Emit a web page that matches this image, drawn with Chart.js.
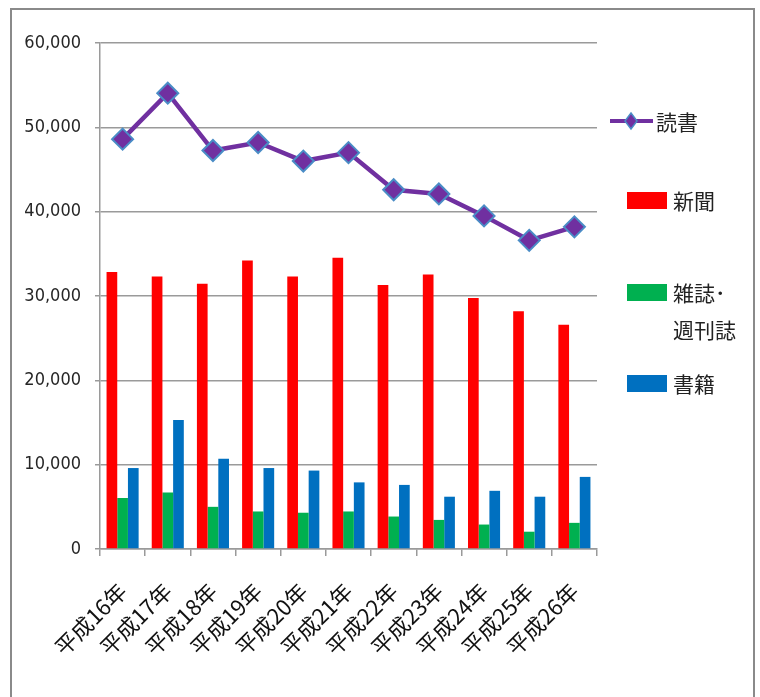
<!DOCTYPE html>
<html>
<head>
<meta charset="utf-8">
<script src="https://cdn.jsdelivr.net/npm/chart.js@4/dist/chart.umd.min.js"></script>
<style>
  body { margin: 0; background: #fff; }
  #wrap { position: relative; width: 760px; height: 697px; overflow: hidden; }
  #frame { position: absolute; left: 10px; top: 8px; width: 741px; height: 720px;
           border: 2px solid #8a8a8a; border-bottom: none; pointer-events: none; }
  canvas { position: absolute; left: 0; top: 0; }
</style>
</head>
<body>
<div id="wrap">
  <canvas id="chart" width="760" height="697"></canvas>
  <div id="frame"></div>
</div>
<script>
const years = ["平成16年", "平成17年", "平成18年", "平成19年", "平成20年", "平成21年",
  "平成22年", "平成23年", "平成24年", "平成25年", "平成26年"];
const dokusho = [48600, 54050, 47250, 48200, 46000, 47000, 42600, 42100, 39500, 36600, 38200];
const shinbun = [32850, 32300, 31450, 34200, 32300, 34550, 31300, 32550, 29750, 28200, 26600];
const zasshi = [6050, 6700, 5000, 4450, 4300, 4450, 3850, 3450, 2900, 2050, 3100];
const shoseki = [9600, 15300, 10700, 9600, 9300, 7900, 7600, 6200, 6900, 6200, 8550];
const seriesNames = ["読書", "新聞", ["雑誌･", "週刊誌"], "書籍"];

const cjk = "'Noto Sans CJK JP', sans-serif";
const numFont = "'DejaVu Sans Condensed', 'Liberation Sans', sans-serif";

// legend drawn by hand so the line item and the box items can sit like the original
const sideLegend = {
  id: "sideLegend",
  afterDraw(chart) {
    const ctx = chart.ctx;
    const ds = chart.data.datasets;
    ctx.save();
    ctx.font = "21px " + cjk;
    ctx.fillStyle = "#222";
    ctx.textBaseline = "middle";

    // line item
    let y = 121;
    ctx.strokeStyle = ds[0].borderColor;
    ctx.lineWidth = 4;
    ctx.beginPath();
    ctx.moveTo(610, y);
    ctx.lineTo(653, y);
    ctx.stroke();
    ctx.beginPath();
    ctx.moveTo(631, y - 8);
    ctx.lineTo(637, y);
    ctx.lineTo(631, y + 8);
    ctx.lineTo(625, y);
    ctx.closePath();
    ctx.fillStyle = ds[0].pointBackgroundColor;
    ctx.fill();
    ctx.strokeStyle = ds[0].pointBorderColor;
    ctx.lineWidth = 1.5;
    ctx.stroke();
    ctx.fillStyle = "#222";
    ctx.fillText(ds[0].label, 656, y + 1);

    const rows = [200, 292, 383];
    for (let i = 1; i < 4; i++) {
      const cy = rows[i - 1];
      ctx.fillStyle = ds[i].backgroundColor;
      ctx.fillRect(627, cy - 8, 40, 17);
      ctx.fillStyle = "#222";
      const lab = ds[i].label;
      if (Array.isArray(lab)) {
        lab.forEach((t, k) => ctx.fillText(t, 673, cy + 1 + k * 37));
      } else {
        ctx.fillText(lab, 673, cy + 1);
      }
    }
    ctx.restore();
  },
};

new Chart(document.getElementById("chart"), {
  data: {
    labels: years,
    datasets: [
      {
        type: "line",
        label: seriesNames[0],
        data: dokusho,
        borderColor: "#7030A0",
        borderWidth: 4.5,
        pointStyle: "rectRot",
        pointRadius: 10.5,
        pointBackgroundColor: "#7030A0",
        pointBorderColor: "#4A8CC6",
        pointBorderWidth: 2,
        tension: 0,
        order: 0,
      },
      { type: "bar", label: seriesNames[1], data: shinbun, backgroundColor: "#FF0000", order: 1 },
      { type: "bar", label: seriesNames[2], data: zasshi, backgroundColor: "#00B050", order: 1 },
      { type: "bar", label: seriesNames[3], data: shoseki, backgroundColor: "#0070C0", order: 1 },
    ],
  },
  options: {
    responsive: false,
    animation: false,
    layout: { padding: { left: 0, top: 43, right: 163, bottom: 0 } },
    datasets: { bar: { categoryPercentage: 0.71, barPercentage: 1 } },
    plugins: { legend: { display: false }, tooltip: { enabled: false } },
    scales: {
      x: {
        afterFit: (s) => { s.height = 148; },
        grid: { offset: true, drawOnChartArea: false, color: "#9a9a9a", lineWidth: 1.5, tickLength: 7 },
        border: { color: "#9a9a9a", width: 1.5 },
        ticks: {
          minRotation: 45,
          maxRotation: 45,
          padding: 22,
          color: "#111",
          font: { family: cjk, size: 22 },
        },
      },
      y: {
        min: 0,
        max: 60000,
        afterFit: (s) => { s.width = 100; },
        grid: { color: "#9a9a9a", lineWidth: 1.5, tickLength: 5 },
        border: { color: "#9a9a9a", width: 1.5 },
        ticks: {
          stepSize: 10000,
          padding: 14,
          color: "#262626",
          font: { family: numFont, size: 18 },
          callback: (v) => v.toLocaleString("en-US"),
        },
      },
    },
  },
  plugins: [sideLegend],
});
</script>
</body>
</html>
